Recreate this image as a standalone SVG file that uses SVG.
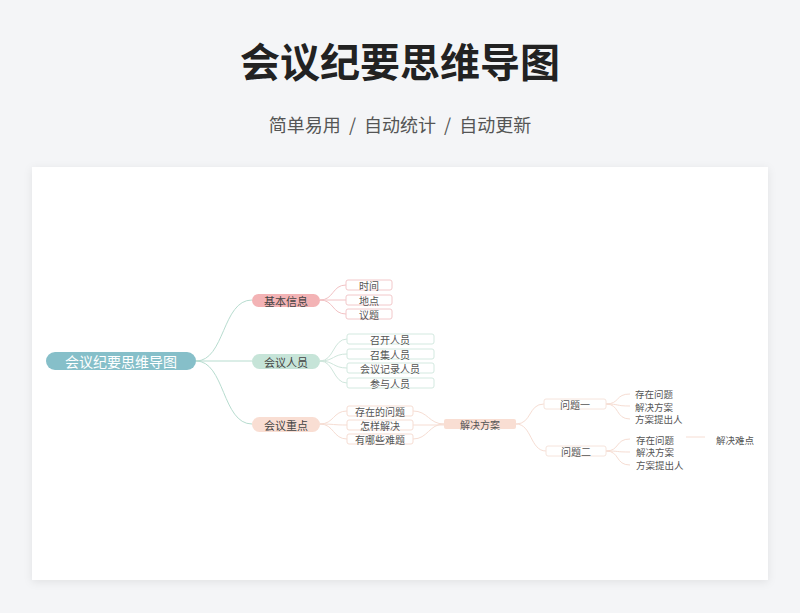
<svg xmlns="http://www.w3.org/2000/svg" width="800" height="613" viewBox="0 0 800 613">
<defs>
<filter id="sh" x="-5%" y="-5%" width="110%" height="110%"><feDropShadow dx="0" dy="2" stdDeviation="4" flood-color="#000" flood-opacity="0.08"/></filter>
<style>
text{font-family:"Noto Sans CJK SC","Noto Sans",sans-serif;}
.t{font-size:10px;fill:#555;text-anchor:middle;dominant-baseline:central}
.l{font-size:9.5px;fill:#555;dominant-baseline:central}
.b{font-size:11px;fill:#444;text-anchor:middle;dominant-baseline:central}
.lf{fill:#fff;stroke-width:1}
.c{fill:none;stroke-width:1}
</style>
</defs>
<rect width="800" height="613" fill="#f4f5f7"/>
<text x="400" y="60" font-size="40" font-weight="bold" fill="#222" text-anchor="middle" dominant-baseline="central">会议纪要思维导图</text>
<text x="400" y="124" font-size="18" fill="#555" text-anchor="middle" dominant-baseline="central" xml:space="preserve">简单易用  /  自动统计  /  自动更新</text>
<rect x="32" y="167" width="736" height="413" fill="#fff" filter="url(#sh)"/>
<g id="connectors">
<g stroke="#b7dccf" class="c">
<path d="M196 361 C225 361,222 300,252 300"/>
<path d="M196 361 H252"/>
<path d="M196 361 C225 361,222 424,252 424"/>
</g>
<g stroke="#f2c2c4" class="c">
<path d="M320 300 C334 300,332 285,346 285"/>
<path d="M320 300 H346"/>
<path d="M320 300 C334 300,332 314,346 314"/>
</g>
<g stroke="#cfe6dc" class="c">
<path d="M320 361 C334 361,333 339,347 339"/>
<path d="M320 361 C334 361,333 354,347 354"/>
<path d="M320 361 C334 361,333 368,347 368"/>
<path d="M320 361 C334 361,333 383,347 383"/>
</g>
<g stroke="#f6ddd3" class="c">
<path d="M320 424 C334 424,333 411,347 411"/>
<path d="M320 424 C334 424,333 425,347 425"/>
<path d="M320 424 C334 424,333 439,347 439"/>
<path d="M413 411 C428 411,429 424,444 424"/>
<path d="M413 425 H444"/>
<path d="M413 439 C428 439,429 424,444 424"/>
<path d="M516 424 C532 424,528 404,544 404"/>
<path d="M516 424 C532 424,530 451,546 451"/>
<path d="M606 404 C620 404,615 394,630 394"/>
<path d="M606 404 C620 404,615 406,630 406"/>
<path d="M606 404 C620 404,615 419,630 419"/>
<path d="M606 451 C620 451,615 439,630 439"/>
<path d="M606 451 C620 451,615 452,630 452"/>
<path d="M606 451 C620 451,615 465,630 465"/>
<path d="M686 437 H705"/>
</g>
</g>
<g id="root"><rect x="46" y="352" width="150" height="18" rx="9" fill="#86bfc9"/><text x="121" y="361" font-size="14" fill="#fff" text-anchor="middle" dominant-baseline="central">会议纪要思维导图</text></g>
<g id="b1"><rect x="252" y="294" width="68" height="13" rx="6.5" fill="#f3b3b5"/><text class="b" x="286" y="300.5">基本信息</text></g>
<g id="b2"><rect x="252" y="354" width="68" height="15" rx="7.5" fill="#c6e4d8"/><text class="b" x="286" y="361.5">会议人员</text></g>
<g id="b3"><rect x="252" y="417" width="68" height="15" rx="7.5" fill="#f9ded3"/><text class="b" x="286" y="424.5">会议重点</text></g>
<g id="n-time"><rect class="lf" stroke="#f2c8ca" x="346" y="280" width="46" height="10" rx="2"/><text class="t" x="369" y="285">时间</text></g>
<g id="n-place"><rect class="lf" stroke="#f2c8ca" x="346" y="295" width="46" height="10" rx="2"/><text class="t" x="369" y="300">地点</text></g>
<g id="n-topic"><rect class="lf" stroke="#f2c8ca" x="346" y="309" width="46" height="10" rx="2"/><text class="t" x="369" y="314">议题</text></g>
<g id="n-p1"><rect class="lf" stroke="#d3e9e0" x="347" y="334" width="87" height="10" rx="2"/><text class="t" x="390" y="339">召开人员</text></g>
<g id="n-p2"><rect class="lf" stroke="#d3e9e0" x="347" y="349" width="87" height="10" rx="2"/><text class="t" x="390" y="354">召集人员</text></g>
<g id="n-p3"><rect class="lf" stroke="#d3e9e0" x="347" y="363" width="87" height="10" rx="2"/><text class="t" x="390" y="368">会议记录人员</text></g>
<g id="n-p4"><rect class="lf" stroke="#d3e9e0" x="347" y="378" width="87" height="10" rx="2"/><text class="t" x="390" y="383">参与人员</text></g>
<g id="n-k1"><rect class="lf" stroke="#f6ddd3" x="347" y="406" width="66" height="10" rx="2"/><text class="t" x="380" y="411">存在的问题</text></g>
<g id="n-k2"><rect class="lf" stroke="#f6ddd3" x="347" y="420" width="66" height="10" rx="2"/><text class="t" x="380" y="425">怎样解决</text></g>
<g id="n-k3"><rect class="lf" stroke="#f6ddd3" x="347" y="434" width="66" height="10" rx="2"/><text class="t" x="380" y="439">有哪些难题</text></g>
<g id="n-sol"><rect x="444" y="419" width="72" height="10" rx="2" fill="#f9ded3"/><text class="t" x="480" y="424">解决方案</text></g>
<g id="n-q1"><rect class="lf" stroke="#f6e4dc" x="544" y="399" width="62" height="10" rx="2"/><text class="t" x="575" y="404">问题一</text></g>
<g id="n-q2"><rect class="lf" stroke="#f6e4dc" x="546" y="446" width="60" height="10" rx="2"/><text class="t" x="576" y="451">问题二</text></g>
<g id="q1-items"><text class="l" x="635" y="394">存在问题</text><text class="l" x="635" y="406.5">解决方案</text><text class="l" x="635" y="419">方案提出人</text></g>
<g id="q2-items"><text class="l" x="636" y="439.5">存在问题</text><text class="l" x="636" y="452">解决方案</text><text class="l" x="636" y="464.5">方案提出人</text></g>
<g id="n-diff"><text class="l" x="716" y="440">解决难点</text></g>
</svg>
